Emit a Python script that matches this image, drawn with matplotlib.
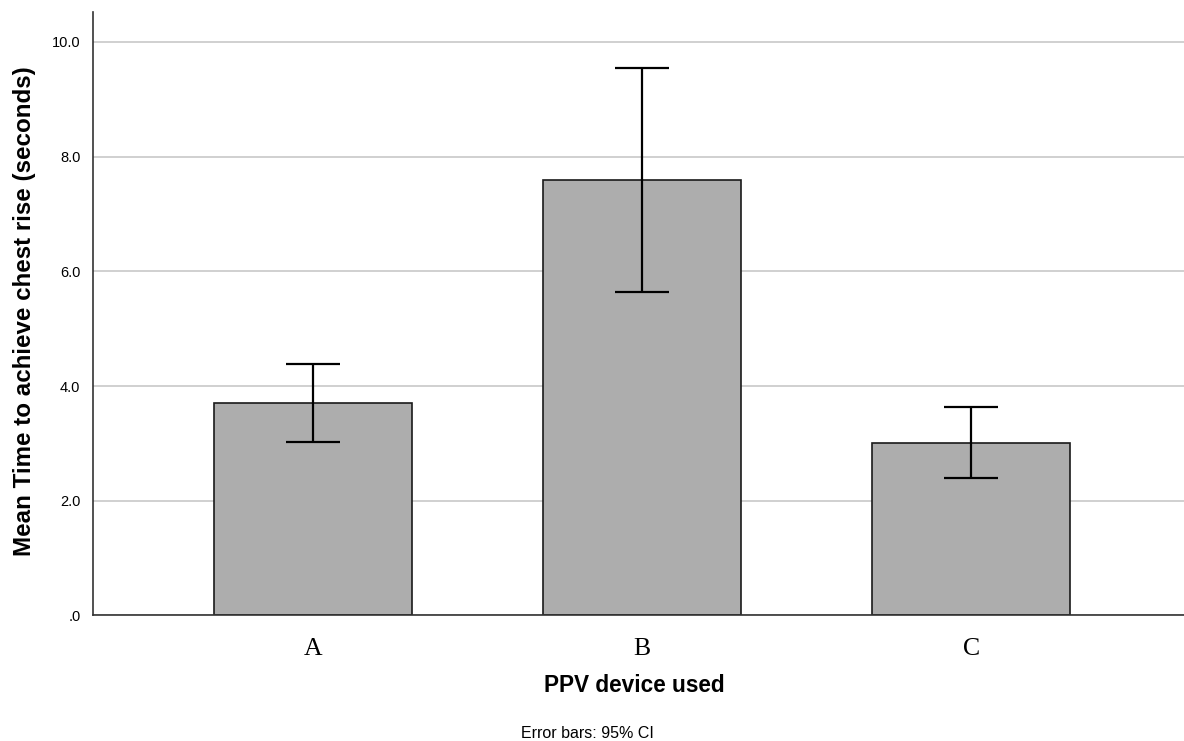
import numpy as np
import matplotlib
matplotlib.use('Agg')
import matplotlib.pyplot as plt

devices = ['A', 'B', 'C']
means = [3.71, 7.59, 3.01]
ci_low = [3.02, 5.64, 2.39]
ci_high = [4.39, 9.55, 3.64]
yticks = [0, 2, 4, 6, 8, 10]
ytick_labels = ['.0', '2.0', '4.0', '6.0', '8.0', '10.0']

plt.rcParams['font.family'] = ['Liberation Sans', 'DejaVu Sans']

fig = plt.figure(figsize=(11.84, 7.41), dpi=100)
ax = fig.add_axes([0.0785, 0.1694, 0.9215, 0.8144])

x = np.arange(len(devices))
means = np.array(means)
yerr = [means - np.array(ci_low), np.array(ci_high) - means]

ax.bar(x, means, width=0.6, color='#adadad', edgecolor='#1a1a1a', linewidth=1.2, zorder=2)
ax.errorbar(x, means, yerr=yerr, fmt='none', ecolor='black', elinewidth=1.6,
            capsize=26.7 * 72 / 100, capthick=1.6, zorder=3)

ax.set_xlim(-0.669, 2.647)
ax.set_ylim(0, 10.52)
ax.set_yticks(yticks)
ax.set_yticklabels(ytick_labels, fontsize=10.5)
ax.yaxis.grid(True, color='#c8c8c8', linewidth=1.2, zorder=0)
ax.set_axisbelow(True)
ax.tick_params(axis='y', length=0, pad=9)
ax.tick_params(axis='x', length=0, pad=16)
ax.set_xticks(x)
ax.set_xticklabels(devices, fontsize=18.5, family='Liberation Serif')

for s in ['top', 'right']:
    ax.spines[s].set_visible(False)
ax.spines['left'].set_color('#333333')
ax.spines['bottom'].set_color('#333333')
ax.spines['left'].set_linewidth(1.2)
ax.spines['bottom'].set_linewidth(1.2)

fig.text(25 / 1184, 0.580, 'Mean Time to achieve chest rise (seconds)', fontsize=17.4,
         fontweight='bold', rotation=90, ha='center', va='center')
fig.text(0.5355, 1 - 686 / 741, 'PPV device used', fontsize=16.3, fontweight='bold',
         ha='center', va='center')
fig.text(0.4965, 1 - 733 / 741, 'Error bars: 95% CI', fontsize=11.5, ha='center', va='center')

plt.savefig('out.png', dpi=100)
